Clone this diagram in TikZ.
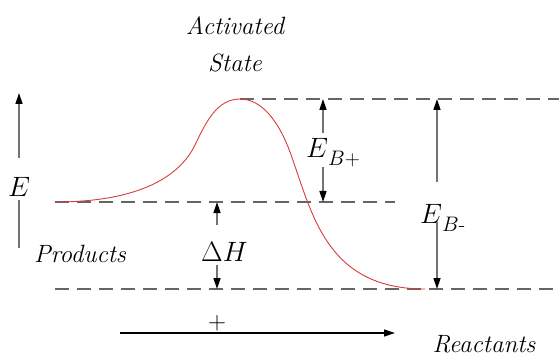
\RequirePackage{fix-cm}
\documentclass[tikz,border=0pt]{standalone}
\usepackage{amsmath}
\usepackage{xcolor}
\usepackage{tikz}
\usetikzlibrary{arrows.meta,positioning,calc}

\definecolor{pathred}{RGB}{214,60,60}
\newcommand{\lowsub}[1]{\lower8pt\hbox{\fontsize{21}{25}\selectfont#1}}

\tikzset{
  lvl/.style={draw=black!60,line width=1.5pt,dash pattern=on 14pt off 8pt},
  gap/.style={draw=black!55,line width=1.5pt,-{Triangle[length=11pt,width=7pt,color=black]}},
  lbl/.style={font=\fontsize{25}{29}\selectfont\itshape,inner sep=0pt},
  sym/.style={font=\fontsize{28}{32}\selectfont,inner sep=0pt},
}

\begin{document}
\begin{tikzpicture}[x=1pt,y=-1pt]
  \useasboundingbox (0,0) rectangle (559,358);
  % energy levels
  \coordinate (top0) at (240,99); \coordinate (top1) at (559,99);
  \coordinate (mid0) at (55,202); \coordinate (mid1) at (395,202);
  \coordinate (bot0) at (55,289); \coordinate (bot1) at (559,289);
  \draw[lvl] (top0)--(top1); \draw[lvl] (mid0)--(mid1); \draw[lvl] (bot0)--(bot1);
  % reaction path
  \draw[pathred,line width=0.9pt] (mid0) .. controls (140,202) and (180,176) .. (195,145)
    .. controls (206,122) and (217,99) .. (top0) .. controls (262,99) and (279,122) .. (290,152)
    .. controls (312,212) and (325,289) .. (425,289);
  % texts
  \node[lbl,anchor=base] (act) at (235,35) {Activated};
  \node[lbl,anchor=base] (st) at (235,72) {State};
  \node[lbl,anchor=base] (prod) at (80,262) {Products};
  \node[lbl,anchor=base] (reac) at (484,352) {Reactants};
  \node[sym] (en) at (19,187) {$E$};
  \node[sym,anchor=base west] (ebp) at (306,158) {$E$\lowsub{$B$+}};
  \node[sym,anchor=base west] (ebm) at (420,223) {$E$\lowsub{$B$-}};
  \node[sym,anchor=base west] (dh) at (201,261) {$\Delta H$};
  \node[lbl] (plus) at (217,323) {$+$};
  \node[lbl] (minus) at (205,360) {$-$};
  % gaps
  \coordinate (e0) at (19,158); \coordinate (e1) at (19,93);
  \coordinate (e2) at (19,200); \coordinate (e3) at (19,248);
  \draw[gap] (e0) -- (e1); \draw[draw=black!55,line width=1.5pt] (e2) -- (e3);
  \coordinate (p0) at (323,133); \coordinate (p1) at (323,99);
  \coordinate (p2) at (323,167); \coordinate (p3) at (323,202);
  \draw[gap] (p0) -- (p1); \draw[gap] (p2) -- (p3);
  \coordinate (m0) at (437,182); \coordinate (m1) at (437,99);
  \coordinate (m2) at (437,222); \coordinate (m3) at (437,289);
  \draw[gap] (m0) -- (m1); \draw[gap] (m2) -- (m3);
  \coordinate (h0) at (217,225); \coordinate (h1) at (217,202);
  \coordinate (h2) at (217,265); \coordinate (h3) at (217,289);
  \draw[gap] (h0) -- (h1); \draw[gap] (h2) -- (h3);
  % reaction coordinate
  \coordinate (r0) at (120,333); \coordinate (r1) at (395,333);
  \draw[black,line width=1.3pt,-{Triangle[length=11pt,width=7pt]}] (r0) -- (r1);
\end{tikzpicture}
\end{document}
